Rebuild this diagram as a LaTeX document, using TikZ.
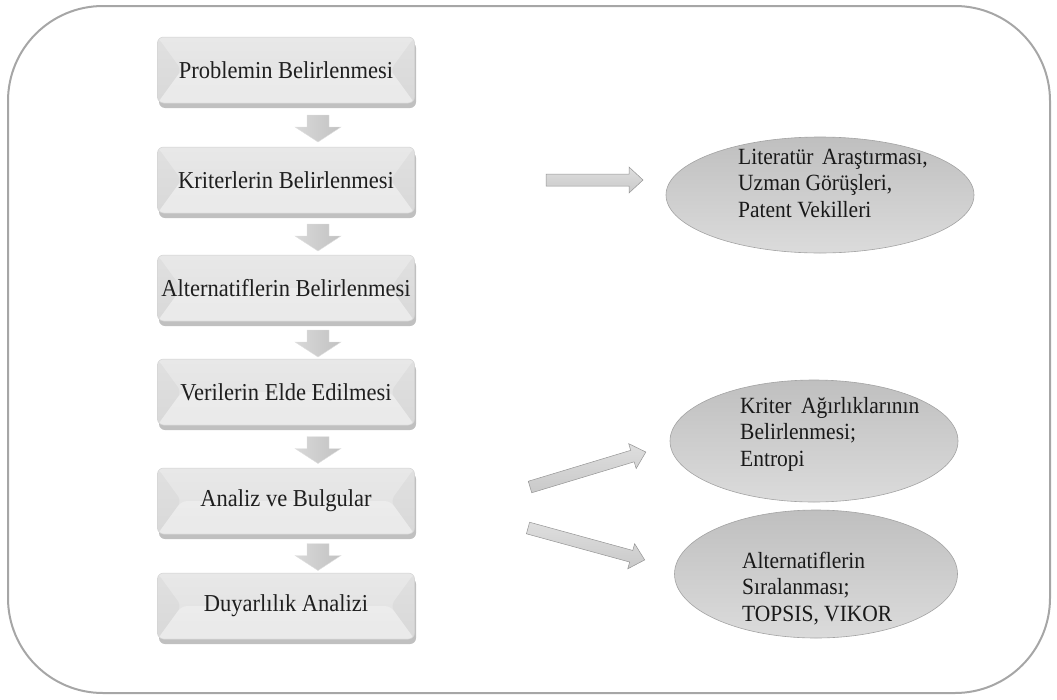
\documentclass[tikz,border=0pt]{standalone}
\usepackage{graphicx}
\usepackage{fontspec}
\setmainfont{Liberation Serif}
\usetikzlibrary{shadows,calc,shapes.geometric}
\newcommand\tallt[1]{\scalebox{1}[1.08]{#1}}
\begin{document}
\begin{tikzpicture}[x=1pt,y=-1pt,
  frame/.style={draw=black!35, line width=2pt, rounded corners=95pt},
  stepbox/.style={rectangle, rounded corners=6pt, minimum width=257pt, minimum height=66pt,
    draw=black!18, line width=0.5pt, top color=black!9, bottom color=black!12,
    font=\fontsize{22.5}{26}\selectfont, text=black!88, inner sep=0pt,
    drop shadow={shadow xshift=1.5pt, shadow yshift=-5pt, opacity=0.45, fill=black!55},
    path picture={
      \fill[white,opacity=0.3] ([xshift=24pt]path picture bounding box.west) -- ([xshift=-24pt]path picture bounding box.east) -- (path picture bounding box.south east) -- (path picture bounding box.south west) -- cycle;
      \fill[black,opacity=0.03] (path picture bounding box.north west) -- ([xshift=24pt]path picture bounding box.west) -- (path picture bounding box.south west) -- cycle;
      \fill[black,opacity=0.03] (path picture bounding box.north east) -- ([xshift=-24pt]path picture bounding box.east) -- (path picture bounding box.south east) -- cycle;
    }},
  oval/.style={ellipse, draw=black!36, line width=0.6pt, top color=black!25, bottom color=black!14, inner sep=0pt},
  note/.style={align=left, font=\fontsize{21.5}{26.5}\selectfont, text=black!90, inner sep=0pt, anchor=base west},
  blk/.style={draw=black!42, line width=0.5pt, top color=black!13, bottom color=black!21},
  dblk/.style={draw=black!12, line width=0.4pt, left color=black!15, right color=black!24},
  downarr/.pic={\path[dblk] (-11,0) -- (11,0) -- (11,12) -- (23,12) -- (0,27) -- (-23,12) -- (-11,12) -- cycle;},
  rarr/.pic={\path[blk] (0,-6) -- ({#1-14},-6) -- ({#1-14},-13) -- (#1,0) -- ({#1-14},13) -- ({#1-14},6) -- (0,6) -- cycle;}
]
\useasboundingbox (0,0) rectangle (1057,699);
\draw[frame] (8,6) rectangle (1050,693);

% process steps
\node[stepbox] (b1) at (286,70)  {\tallt{Problemin Belirlenmesi}};
\node[stepbox] (b2) at (286,180) {\tallt{Kriterlerin Belirlenmesi}};
\node[stepbox] (b3) at (286,288) {\tallt{Alternatiflerin Belirlenmesi}};
\node[stepbox] (b4) at (286,392) {\tallt{Verilerin Elde Edilmesi}};
\node[stepbox] (b5) at (286,501) {\tallt{Analiz ve Bulgular}};
\node[stepbox] (b6) at (286,606) {\tallt{Duyarlılık Analizi}};

% down arrows
\path ($(b1.south)!0.5!(b2.north)+(32,-10)$) pic {downarr};
\path ($(b2.south)!0.5!(b3.north)+(32,-10)$) pic {downarr};
\path ($(b3.south)!0.5!(b4.north)+(32,-10)$) pic {downarr};
\path ($(b4.south)!0.5!(b5.north)+(32,-10)$) pic {downarr};
\path ($(b5.south)!0.5!(b6.north)+(32,-10)$) pic {downarr};

% ellipses
\node[oval, minimum width=308pt, minimum height=116pt] (e1) at (820,195) {};
\node[oval, minimum width=288pt, minimum height=122pt] (e2) at (814,441) {};
\node[oval, minimum width=283pt, minimum height=128pt] (e3) at (816,574) {};

\node[note] (t1) at (738,217) {\tallt{Literatür\hspace{0.15em} Araştırması,}\\\tallt{Uzman Görüşleri,}\\\tallt{Patent Vekilleri}};
\node[note] (t2) at (740,466) {\tallt{Kriter\hspace{0.2em} Ağırlıklarının}\\\tallt{Belirlenmesi;}\\\tallt{Entropi}};
\node[note] (t3) at (742,621) {\tallt{Alternatiflerin}\\\tallt{Sıralanması;}\\\tallt{TOPSIS, VIKOR}};

% side arrows
\coordinate (h1s) at (546,180);
\coordinate (d1s) at (530,487);
\coordinate (d2s) at (528,528);
\path (h1s) pic {rarr=97};
\path (d1s) pic[rotate=16.8] {rarr=121};
\path (d2s) pic[rotate=-15.3] {rarr=121};
\end{tikzpicture}
\end{document}
